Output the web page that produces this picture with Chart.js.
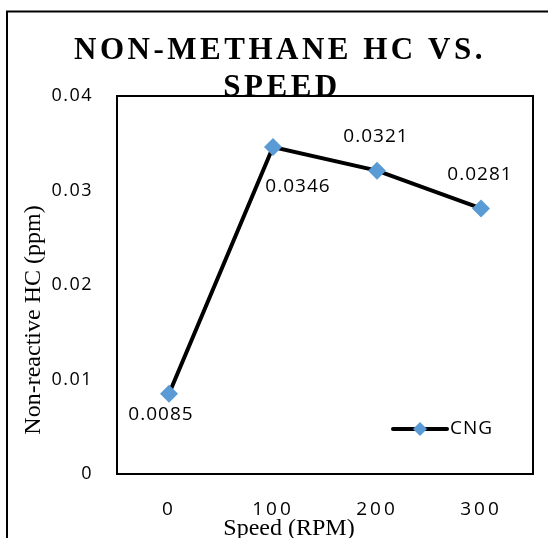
<!DOCTYPE html>
<html>
<head>
<meta charset="utf-8">
<script src="https://cdn.jsdelivr.net/npm/chart.js@4"></script>
<style>
  body { margin: 0; background: #fff; }
  canvas { display: block; }
</style>
</head>
<body>
<canvas id="hcChart" width="548" height="538"></canvas>
<script>
const speeds = ['0', '100', '200', '300'];
const cngValues = [0.0085, 0.0346, 0.0321, 0.0281];
const yTickValues = [0, 0.01, 0.02, 0.03, 0.04];
const seriesName = 'CNG';
const titleLines = ['NON-METHANE HC VS.', 'SPEED'];
const xTitle = 'Speed (RPM)';
const yTitle = 'Non-reactive HC (ppm)';
// where each value label sits relative to its marker
const labelPlacement = ['below', 'belowRight', 'above', 'above'];

const markerBlue = '#5B9BD5';
const sansFont = '"Open Sans", sans-serif';
const serifFont = '"Liberation Serif", serif';

const labelOffsets = {
    below: [-8, 21],
    belowRight: [25, 40],
    above: [-1, -34]
};

function diamond(ctx, x, y, r) {
    ctx.beginPath();
    ctx.moveTo(x, y - r);
    ctx.lineTo(x + r, y);
    ctx.lineTo(x, y + r);
    ctx.lineTo(x - r, y);
    ctx.closePath();
    ctx.fill();
}

// frame, title, data labels and legend the way Excel drew them
const decorPlugin = {
    id: 'decor',
    beforeDraw(chart) {
        const ctx = chart.ctx;
        const area = chart.chartArea;
        ctx.save();
        ctx.fillStyle = '#fff';
        ctx.fillRect(0, 0, chart.width, chart.height);
        ctx.strokeStyle = '#000';
        ctx.lineWidth = 2;
        ctx.strokeRect(7, 11.5, 700, 700);

        ctx.fillStyle = '#000';
        ctx.font = 'bold 31px ' + serifFont;
        ctx.letterSpacing = '3.5px';
        ctx.textAlign = 'center';
        ctx.textBaseline = 'alphabetic';
        ctx.fillText(titleLines[0], 280, 59);
        ctx.fillText(titleLines[1], 282, 96);

        // plot area sits on top of the title
        ctx.fillStyle = '#fff';
        ctx.fillRect(area.left, area.top, area.right - area.left, area.bottom - area.top);
        ctx.restore();
        ctx.letterSpacing = '1.5px'; // y tick labels
    },
    beforeDatasetsDraw(chart) {
        const ctx = chart.ctx;
        const area = chart.chartArea;
        ctx.letterSpacing = '0px';
        ctx.save();
        ctx.strokeStyle = '#000';
        ctx.lineWidth = 2;
        ctx.beginPath();
        ctx.moveTo(area.left, area.top);
        ctx.lineTo(area.right, area.top);
        ctx.lineTo(area.right, area.bottom);
        ctx.stroke();
        ctx.restore();
    },
    afterDatasetsDraw(chart) {
        chart.ctx.letterSpacing = '3px'; // x tick labels (drawn above datasets)
    },
    afterDraw(chart) {
        const ctx = chart.ctx;
        const area = chart.chartArea;
        ctx.letterSpacing = '0px';
        ctx.save();

        // value labels
        const meta = chart.getDatasetMeta(0);
        ctx.fillStyle = '#000';
        ctx.font = '19px ' + sansFont;
        ctx.letterSpacing = '1px';
        ctx.textAlign = 'center';
        ctx.textBaseline = 'middle';
        meta.data.forEach((pt, i) => {
            const off = labelOffsets[labelPlacement[i]];
            ctx.fillText(String(cngValues[i]), pt.x + off[0], pt.y + off[1]);
        });

        // legend inside the plot, bottom right
        const ly = area.bottom - 45;
        const lx = area.right - 140;
        ctx.strokeStyle = '#000';
        ctx.lineWidth = 4;
        ctx.lineCap = 'round';
        ctx.beginPath();
        ctx.moveTo(lx, ly);
        ctx.lineTo(lx + 54, ly);
        ctx.stroke();
        ctx.fillStyle = markerBlue;
        diamond(ctx, lx + 27, ly, 7);
        ctx.fillStyle = '#000';
        ctx.textAlign = 'left';
        ctx.fillText(seriesName, lx + 57, ly);

        // axis titles
        ctx.letterSpacing = '0px';
        ctx.font = '24px ' + serifFont;
        ctx.textAlign = 'center';
        ctx.fillText(xTitle, 289, 529);
        ctx.translate(33.5, 320);
        ctx.rotate(-Math.PI / 2);
        ctx.fillText(yTitle, 0, 0);
        ctx.restore();
    }
};

const hcChart = new Chart(document.getElementById('hcChart').getContext('2d'), {
    type: 'line',
    data: {
        labels: speeds,
        datasets: [{
            label: seriesName,
            data: cngValues,
            borderColor: '#000',
            borderWidth: 4,
            tension: 0,
            pointStyle: 'rectRot',
            pointRadius: 9,
            pointHoverRadius: 9,
            pointBackgroundColor: markerBlue,
            pointBorderColor: markerBlue,
            pointBorderWidth: 0
        }]
    },
    options: {
        responsive: false,
        animation: false,
        devicePixelRatio: 1,
        layout: {
            padding: { left: 0, right: 15, top: 96, bottom: 0 }
        },
        plugins: {
            legend: { display: false },
            title: { display: false },
            tooltip: { enabled: false }
        },
        scales: {
            x: {
                type: 'category',
                offset: true,
                grid: { display: false, drawTicks: false },
                border: { display: true, color: '#000', width: 2 },
                ticks: {
                    color: '#000',
                    font: { family: sansFont, size: 19 },
                    padding: 24,
                    maxRotation: 0,
                    z: 1
                },
                afterFit(scale) { scale.height = 64; }
            },
            y: {
                min: 0,
                max: 0.04,
                grid: { display: false, drawTicks: false },
                border: { display: true, color: '#000', width: 2 },
                ticks: {
                    color: '#000',
                    font: { family: sansFont, size: 18 },
                    padding: 24,
                    callback: v => String(v)
                },
                afterBuildTicks(scale) {
                    scale.ticks = yTickValues.map(v => ({ value: v }));
                },
                afterFit(scale) { scale.width = 117; }
            }
        }
    },
    plugins: [decorPlugin]
});
</script>
</body>
</html>
